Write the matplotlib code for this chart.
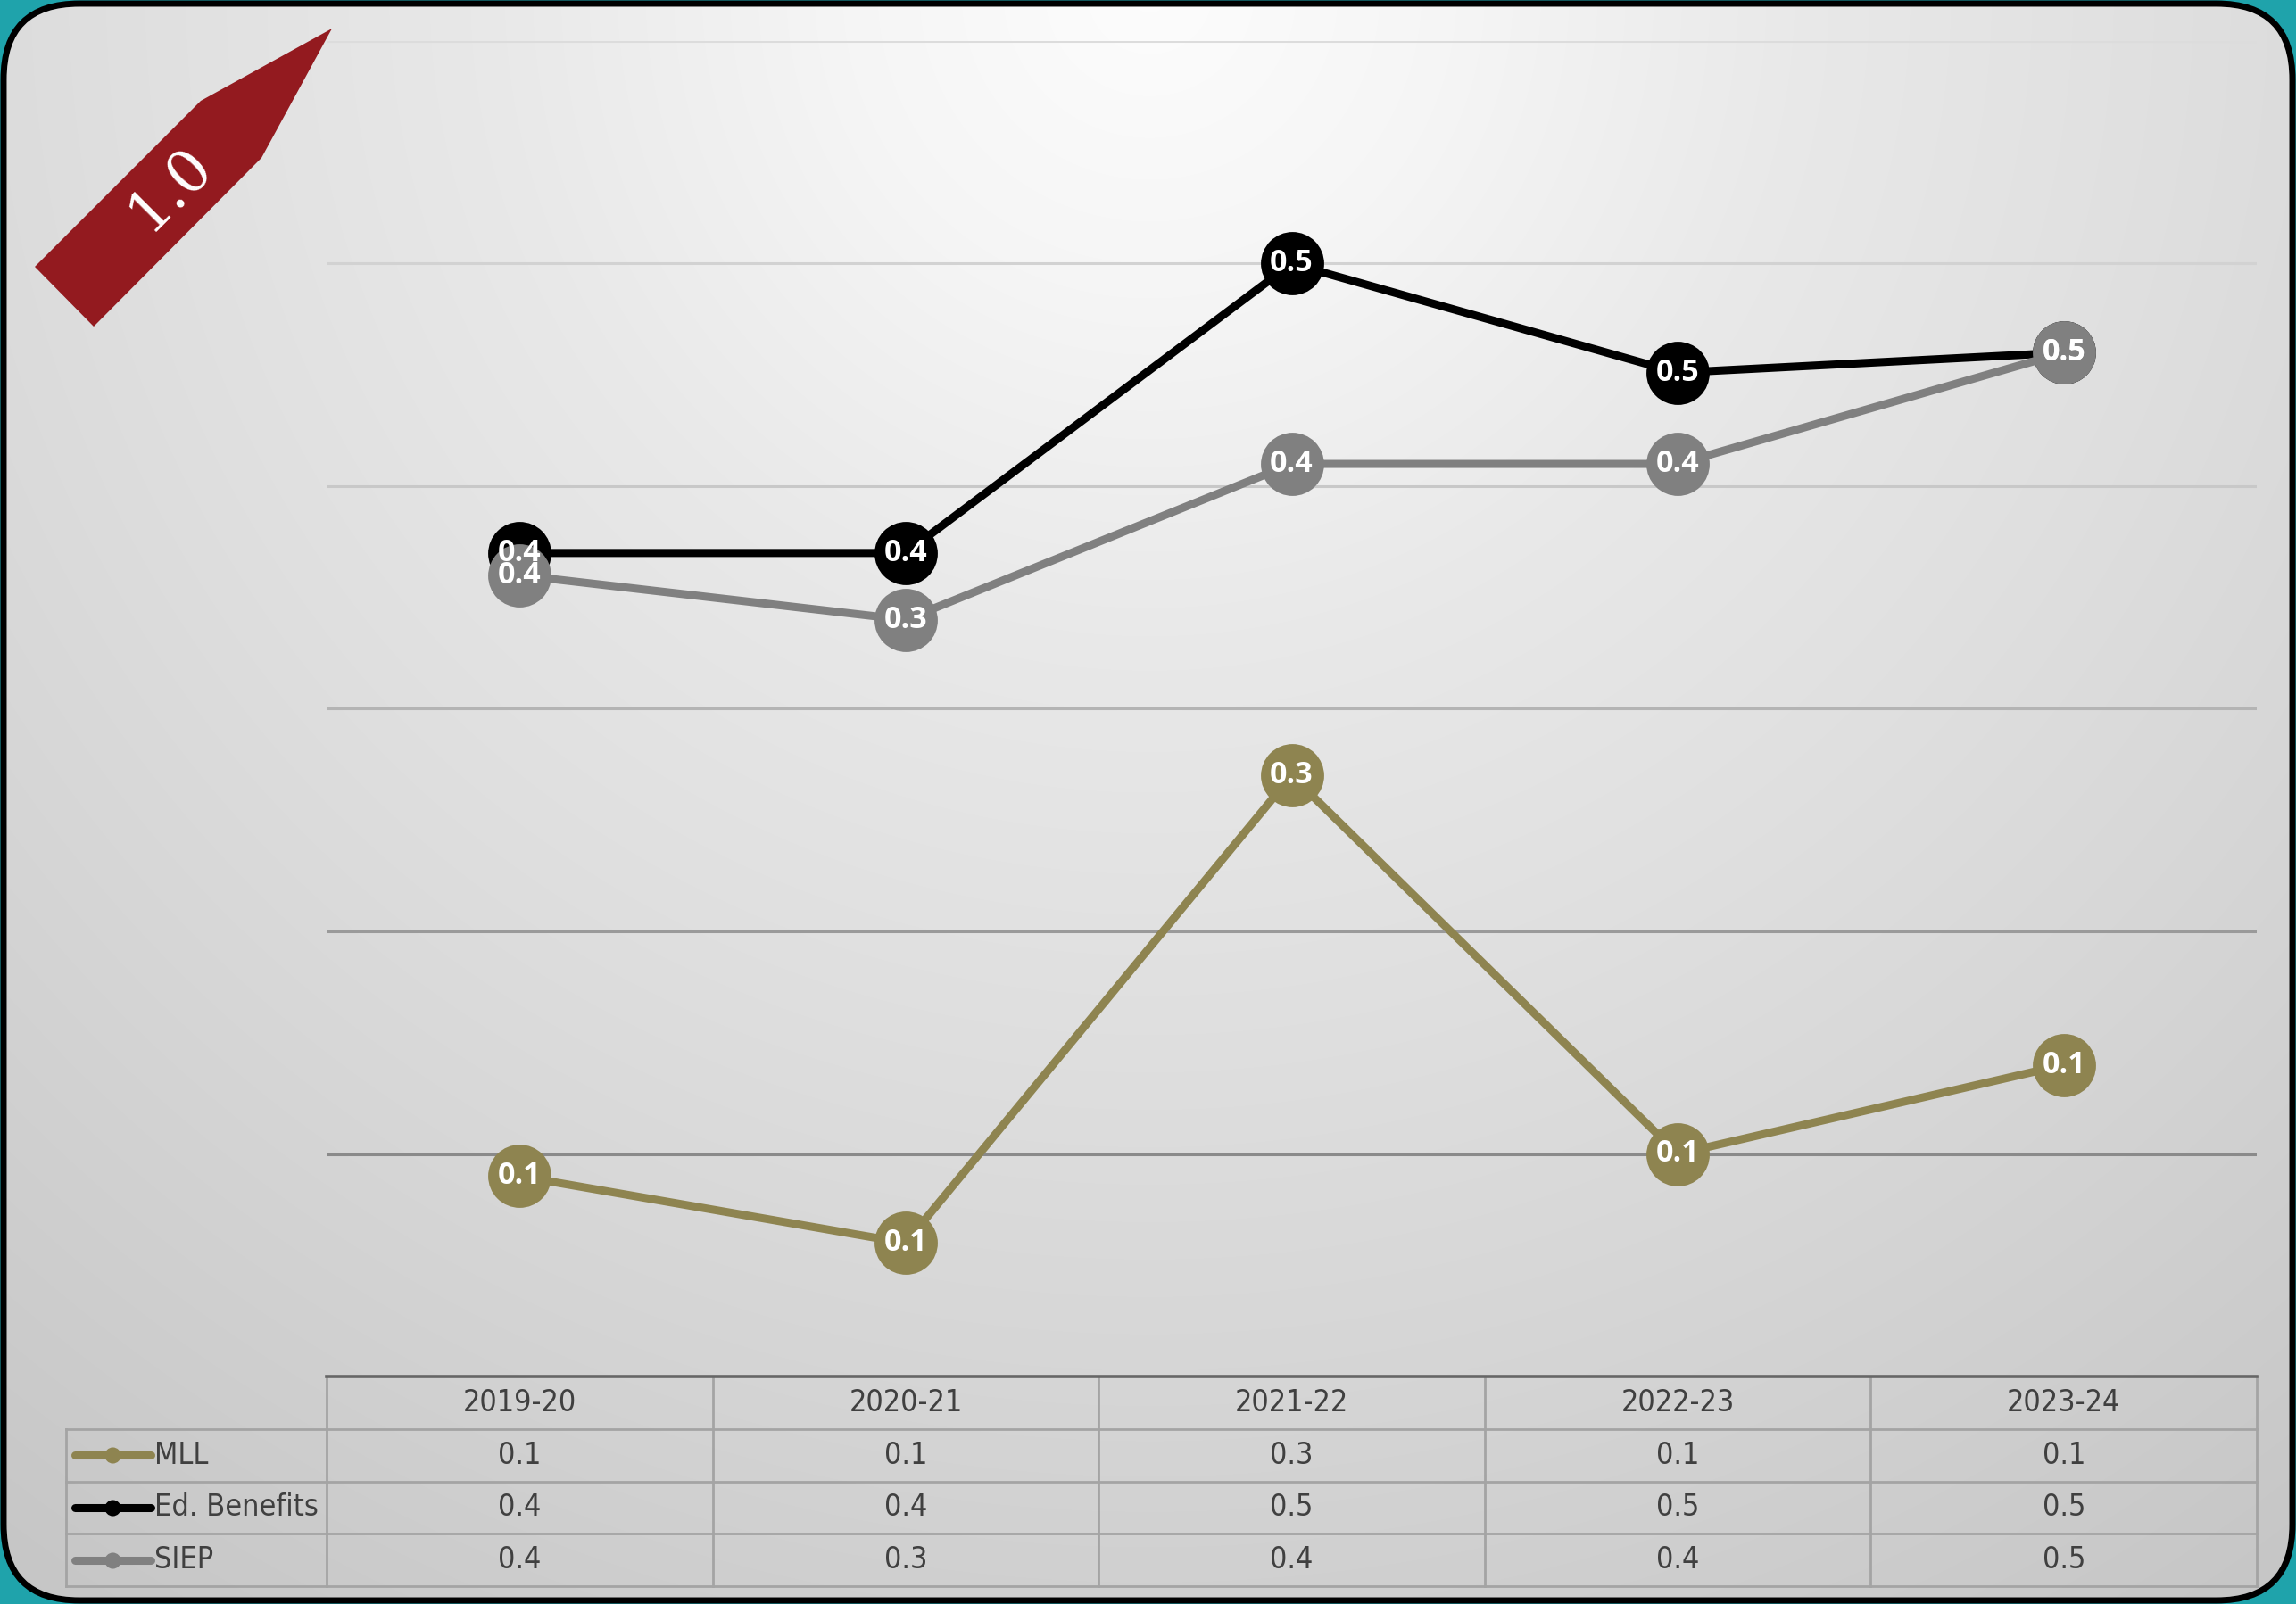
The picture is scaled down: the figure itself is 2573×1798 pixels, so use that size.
import numpy as np
import matplotlib
matplotlib.use('Agg')
import matplotlib.pyplot as plt
from matplotlib.patches import FancyBboxPatch, Polygon
from matplotlib.lines import Line2D
from matplotlib import font_manager

# ---------------- data ----------------
categories = ['2019-20', '2020-21', '2021-22', '2022-23', '2023-24']
series_names = ['MLL', 'Ed. Benefits', 'SIEP']
mll = [0.09, 0.06, 0.27, 0.10, 0.14]
ed_benefits = [0.37, 0.37, 0.50, 0.451, 0.46]
siep = [0.36, 0.34, 0.41, 0.41, 0.46]
y_ticks = [0.1, 0.2, 0.3, 0.4, 0.5, 0.6]
badge_text = '1.0'

series_values = [mll, ed_benefits, siep]
series_colors = ['#8e8450', '#000000', '#808080']

# pick a condensed font for the table if one exists
avail = {f.name for f in font_manager.fontManager.ttflist}
if 'Liberation Sans Narrow' in avail:
    table_family, table_stretch = ['Liberation Sans Narrow', 'DejaVu Sans'], 'normal'
else:
    table_family, table_stretch = ['DejaVu Sans'], 'condensed'

# ---------------- figure ----------------
W, H = 2573, 1798
DPI = 100
fig = plt.figure(figsize=(W / DPI, H / DPI), dpi=DPI)
fig.patch.set_facecolor('#1fa3ab')

bg = fig.add_axes([0, 0, 1, 1])
bg.axis('off')

# radial gradient background
yy, xx = np.mgrid[0:H, 0:W]
r = np.hypot(xx - 1288, yy + 10) / 1.641
val = np.interp(r, [0, 200, 450, 700, 930, 1340, 1700],
                [252, 245, 232, 223, 214, 197, 190])
val = np.round(val) / 255.0
img = np.dstack([val, val, val])
im = bg.imshow(img, extent=(0, W, H, 0), zorder=0, interpolation='nearest', aspect='auto')
bg.set_xlim(0, W)
bg.set_ylim(H, 0)
frame = FancyBboxPatch((4, 4), W - 8, H - 8,
                       boxstyle='round,pad=0,rounding_size=85',
                       facecolor='none', edgecolor='black', linewidth=5, zorder=1)
bg.add_patch(frame)
im.set_clip_path(frame)

# ribbon badge
ribbon = Polygon([(39, 299), (225, 113), (372, 32), (293, 177), (105, 366)],
                 closed=True, facecolor='#931a1f', edgecolor='none', zorder=3)
bg.add_patch(ribbon)
bg.text(190, 212, badge_text, rotation=45, color='white', fontsize=47,
        family=['DejaVu Serif'], fontweight='light', ha='center', va='center',
        rotation_mode='anchor', zorder=4)

# ---------------- main plot ----------------
PL, PR, PT, PB = 366, 2529, 46, 1543
ax = fig.add_axes([PL / W, (H - PB) / H, (PR - PL) / W, (PB - PT) / H])
ax.set_xlim(-0.5, len(categories) - 0.5)
ax.set_ylim(0, 0.6)
ax.axis('off')
ax.patch.set_alpha(0)

grid_colors = ['#8a8a8a', '#9a9a9a', '#b4b4b4', '#c8c8c8', '#d2d2d2', '#dcdcdc']
for t, c in zip(y_ticks, grid_colors):
    ax.axhline(t, color=c, lw=2.2, zorder=1)

x = np.arange(len(categories))
for vals, c in zip(series_values, series_colors):
    ax.plot(x, vals, color=c, lw=6.5, marker='o', markersize=51,
            markeredgewidth=0, zorder=3, solid_capstyle='round')
for vals in series_values:
    for i, v in enumerate(vals):
        ax.text(i, v, f'{v:.1f}', ha='center', va='center', color='white',
                fontsize=24.5, fontweight='bold', family=['Open Sans', 'DejaVu Sans'],
                zorder=5)

# ---------------- data table ----------------
TL, TT, TB = 74, 1543, 1778
col_w = (PR - PL) / len(categories)
x_left = -0.5 - (PL - TL) / col_w
tab = fig.add_axes([TL / W, (H - TB) / H, (PR - TL) / W, (TB - TT) / H])
tab.set_xlim(x_left, len(categories) - 0.5)
tab.set_ylim(4, 0)
tab.axis('off')
tab.patch.set_alpha(0)

def px2x(p):
    return -0.5 + (p - PL) / col_w

line_c = '#a4a4a4'
n = len(categories)
tab.plot([-0.5, n - 0.5], [0, 0], color='#666666', lw=2.6, zorder=3, clip_on=False)
for yv in [1, 2, 3, 4]:
    tab.plot([x_left, n - 0.5], [yv, yv], color=line_c, lw=2, zorder=2, clip_on=False)
tab.plot([x_left, x_left], [1, 4], color=line_c, lw=2, zorder=2, clip_on=False)
for k in range(n + 1):
    tab.plot([-0.5 + k, -0.5 + k], [0, 4], color=line_c, lw=2, zorder=2, clip_on=False)

tfont = dict(family=table_family, stretch=table_stretch, fontsize=24.5, color='#404040')
for i, cat in enumerate(categories):
    tab.text(i, 0.5, cat, ha='center', va='center', **tfont)
for r_i, (name, vals, c) in enumerate(zip(series_names, series_values, series_colors)):
    yc = r_i + 1.5
    for i, v in enumerate(vals):
        tab.text(i, yc, f'{v:.1f}', ha='center', va='center', **tfont)
    tab.add_line(Line2D([px2x(84), px2x(169)], [yc, yc], color=c, lw=6.5,
                        solid_capstyle='round', zorder=4))
    tab.plot([px2x(126)], [yc], marker='o', color=c, markersize=13,
             markeredgewidth=0, zorder=4)
    tab.text(px2x(173), yc, name, ha='left', va='center', **tfont)

fig.savefig('out.png', dpi=DPI, facecolor=fig.get_facecolor())
